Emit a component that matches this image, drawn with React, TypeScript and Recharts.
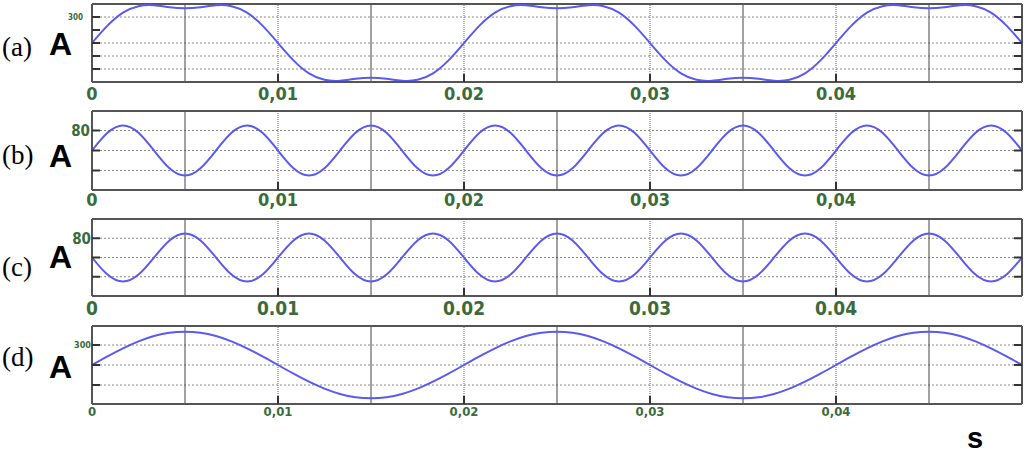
import { CartesianGrid, Line, LineChart, ReferenceLine, XAxis, YAxis } from "recharts"

// sample spacing on the time axis (s), 61 samples from 0 to 0.05
const STEP = 0.05 / 60

const waveA = [
	0, 200, 350, 425, 435, 412, 400, 412, 435, 425, 350, 200, 0, -200, -350, -425, -435, -412, -400, -412, -435, -425, -350, -200,
	0, 200, 350, 425, 435, 412, 400, 412, 435, 425, 350, 200, 0, -200, -350, -425, -435, -412, -400, -412, -435, -425, -350, -200,
	0, 200, 350, 425, 435, 412, 400, 412, 435, 425, 350, 200, 0
]
const waveB = [
	0, 71, 100, 71, 0, -71, -100, -71, 0, 71, 100, 71, 0, -71, -100, -71, 0, 71, 100, 71, 0, -71, -100, -71,
	0, 71, 100, 71, 0, -71, -100, -71, 0, 71, 100, 71, 0, -71, -100, -71, 0, 71, 100, 71, 0, -71, -100, -71,
	0, 71, 100, 71, 0, -71, -100, -71, 0, 71, 100, 71, 0
]
const waveC = [
	0, -71, -100, -71, 0, 71, 100, 71, 0, -71, -100, -71, 0, 71, 100, 71, 0, -71, -100, -71, 0, 71, 100, 71,
	0, -71, -100, -71, 0, 71, 100, 71, 0, -71, -100, -71, 0, 71, 100, 71, 0, -71, -100, -71, 0, 71, 100, 71,
	0, -71, -100, -71, 0, 71, 100, 71, 0, -71, -100, -71, 0
]
const waveD = [
	0, 130, 250, 355, 435, 485, 500, 485, 435, 355, 250, 130, 0, -130, -250, -355, -435, -485, -500, -485, -435, -355, -250, -130,
	0, 130, 250, 355, 435, 485, 500, 485, 435, 355, 250, 130, 0, -130, -250, -355, -435, -485, -500, -485, -435, -355, -250, -130,
	0, 130, 250, 355, 435, 485, 500, 485, 435, 355, 250, 130, 0
]

const xTicks = [0, 0.01, 0.02, 0.03, 0.04]
const labelsA = ["0", "0,01", "0.02", "0,03", "0.04"]
const labelsB = ["0", "0,01", "0,02", "0,03", "0,04"]
const labelsC = ["0", "0.01", "0.02", "0.03", "0.04"]
const labelsD = ["0", "0,01", "0,02", "0,03", "0,04"]
const oddLines = [0.005, 0.015, 0.025, 0.035, 0.045]
const evenLines = [0.01, 0.02, 0.03, 0.04]

const GREEN = "#3b6a3b"
const FRAME = "#555"
const TICK_FONT = "'DejaVu Sans Condensed', 'DejaVu Sans', sans-serif"

type PanelProps = {
	values: number[]
	top: number
	plotHeight: number
	axisHeight: number
	domain: [number, number]
	yTicks: number[]
	yLabel: number
	yFont: number
	yMargin: number
	xLabels: string[]
	xFont: number
	xMargin: number
}

const Panel = (p: PanelProps) => {
	const data = p.values.map((v, i) => ({ t: i * STEP, v }))
	return (
		<div style={{ position: "absolute", left: 0, top: p.top }}>
			<LineChart
				width={1024}
				height={4 + p.plotHeight + p.axisHeight}
				data={data}
				margin={{ top: 4, right: 0, left: 0, bottom: 0 }}
			>
				<CartesianGrid horizontal vertical={false} stroke="#8a8a8a" strokeDasharray="2 2" />
				<XAxis
					dataKey="t"
					type="number"
					height={p.axisHeight}
					domain={[0, 0.05]}
					ticks={xTicks}
					allowDataOverflow
					tickSize={-8}
					tickMargin={p.xMargin}
					axisLine={{ stroke: FRAME, strokeWidth: 2 }}
					tickLine={{ stroke: "#333", strokeWidth: 2 }}
					tick={{ fill: GREEN, fontSize: p.xFont, fontFamily: TICK_FONT, fontWeight: "bold" }}
					tickFormatter={v => p.xLabels[Math.round(v / 0.01)] ?? ""}
				/>
				<YAxis
					width={92}
					type="number"
					domain={p.domain}
					ticks={p.yTicks}
					allowDataOverflow
					tickSize={-8}
					tickMargin={p.yMargin}
					axisLine={{ stroke: FRAME, strokeWidth: 2 }}
					tickLine={{ stroke: "#333", strokeWidth: 2 }}
					tick={{ fill: GREEN, fontSize: p.yFont, fontFamily: TICK_FONT, fontWeight: "bold" }}
					tickFormatter={v => (v === p.yLabel ? String(p.yLabel) : "")}
				/>
				<YAxis
					yAxisId="r"
					orientation="right"
					width={2}
					type="number"
					domain={p.domain}
					ticks={p.yTicks}
					allowDataOverflow
					tickSize={-8}
					axisLine={{ stroke: FRAME, strokeWidth: 2 }}
					tickLine={{ stroke: "#333", strokeWidth: 2 }}
					tickFormatter={() => ""}
				/>
				{oddLines.map(x => (
					<ReferenceLine key={x} x={x} stroke="#444" strokeWidth={1} />
				))}
				{evenLines.map(x => (
					<ReferenceLine key={x} x={x} stroke="#666" strokeWidth={1} strokeDasharray="1 1" />
				))}
				<ReferenceLine y={p.domain[1]} stroke={FRAME} strokeWidth={2} />
				<Line
					type="natural"
					dataKey="v"
					stroke="#5a5af0"
					strokeWidth={2}
					dot={false}
					activeDot={false}
					isAnimationActive={false}
				/>
			</LineChart>
		</div>
	)
}

const sideLabels = [
	{ tag: "(a)", tagY: 56, aY: 55 },
	{ tag: "(b)", tagY: 164, aY: 167 },
	{ tag: "(c)", tagY: 276, aY: 268 },
	{ tag: "(d)", tagY: 366, aY: 378 }
]

export default function App() {
	return (
		<div style={{ position: "absolute", left: 0, top: 0, width: 1024, height: 453, background: "#fff" }}>
			<Panel values={waveA} top={0} plotHeight={78} axisHeight={26} domain={[-450, 450]} yTicks={[-300, -150, 0, 150, 300]}
				yLabel={300} yFont={8} yMargin={17} xLabels={labelsA} xFont={18} xMargin={13} />
			<Panel values={waveB} top={107} plotHeight={79} axisHeight={22} domain={[-158, 158]} yTicks={[-80, 0, 80]}
				yLabel={80} yFont={15} yMargin={10} xLabels={labelsB} xFont={18} xMargin={11} />
			<Panel values={waveC} top={215} plotHeight={77} axisHeight={22} domain={[-160, 160]} yTicks={[-80, 0, 80]}
				yLabel={80} yFont={15} yMargin={9} xLabels={labelsC} xFont={19} xMargin={14} />
			<Panel values={waveD} top={322} plotHeight={78} axisHeight={20} domain={[-585, 585]} yTicks={[-300, 0, 300]}
				yLabel={300} yFont={9} yMargin={9} xLabels={labelsD} xFont={13} xMargin={11} />
			<svg width={1024} height={453} style={{ position: "absolute", left: 0, top: 0, pointerEvents: "none" }}>
				{sideLabels.map(l => (
					<g key={l.tag}>
						<text x={2} y={l.tagY} fontFamily="'Liberation Serif', serif" fontSize={27} fill="#000">
							{l.tag}
						</text>
						<text x={49} y={l.aY} fontFamily="'Liberation Sans', Arial, sans-serif" fontWeight="bold" fontSize={32} fill="#000">
							A
						</text>
					</g>
				))}
				<text x={967} y={448} fontFamily="'Liberation Sans', Arial, sans-serif" fontWeight="bold" fontSize={29} fill="#000">
					s
				</text>
			</svg>
		</div>
	)
}
